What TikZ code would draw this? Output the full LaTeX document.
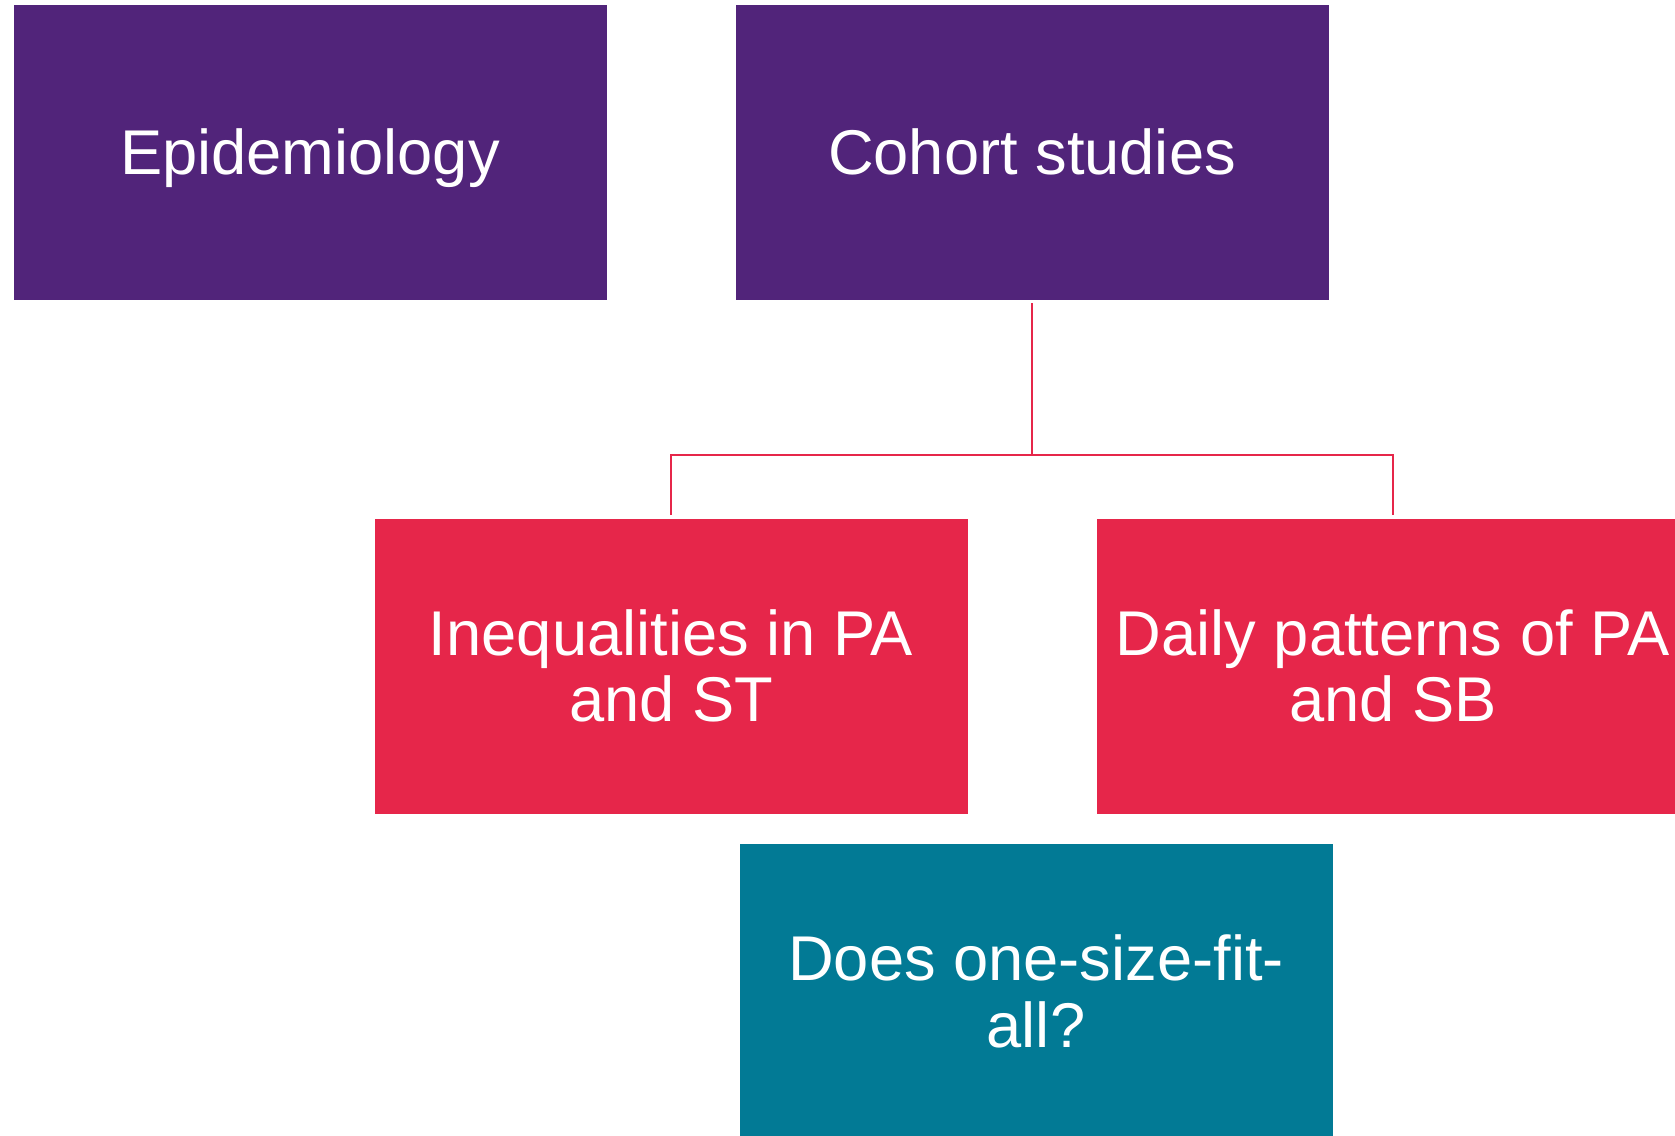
\documentclass[tikz,border=0pt]{standalone}
\usepackage{fontspec}
\setmainfont{Liberation Sans}
\usepackage{xcolor}
\definecolor{purplebox}{HTML}{51247A}
\definecolor{redbox}{HTML}{E6264A}
\definecolor{tealbox}{HTML}{027A95}

\begin{document}
\begin{tikzpicture}[x=0.02cm,y=-0.02cm,
  box/.style={draw=white, line width=0.4pt, text=white, inner sep=0pt,
    minimum width=11.88cm, minimum height=5.92cm, align=center,
    font=\fontsize{36}{38}\selectfont},
  link/.style={draw=redbox, line width=1.2pt, shorten >=1.7pt}]
  \useasboundingbox (0,0) rectangle (1675,1135);
  \clip (0,0) rectangle (1675,1135);
  \node[box, fill=purplebox, text depth=0pt] (epi) at (310,152) {Epidemiology};
  \node[box, fill=purplebox] (cohort) at (1032,152) {Cohort studies};
  \node[box, fill=redbox] (ineq) at (671,666) {Inequalities in PA\\and ST};
  \node[box, fill=redbox] (daily) at (1393,666) {Daily patterns of PA\\and SB};
  \node[box, fill=tealbox] (onesize) at (1036,991) {Does one-size-fit-\\all?};
  % tree under cohort studies
  \coordinate (split) at (1032,455);
  \draw[link, shorten >=0pt, shorten <=1.7pt] (cohort.south) -- (split);
  \draw[link] (split) -| (ineq.north);
  \draw[link] (split) -| (daily.north);
\end{tikzpicture}
\end{document}
